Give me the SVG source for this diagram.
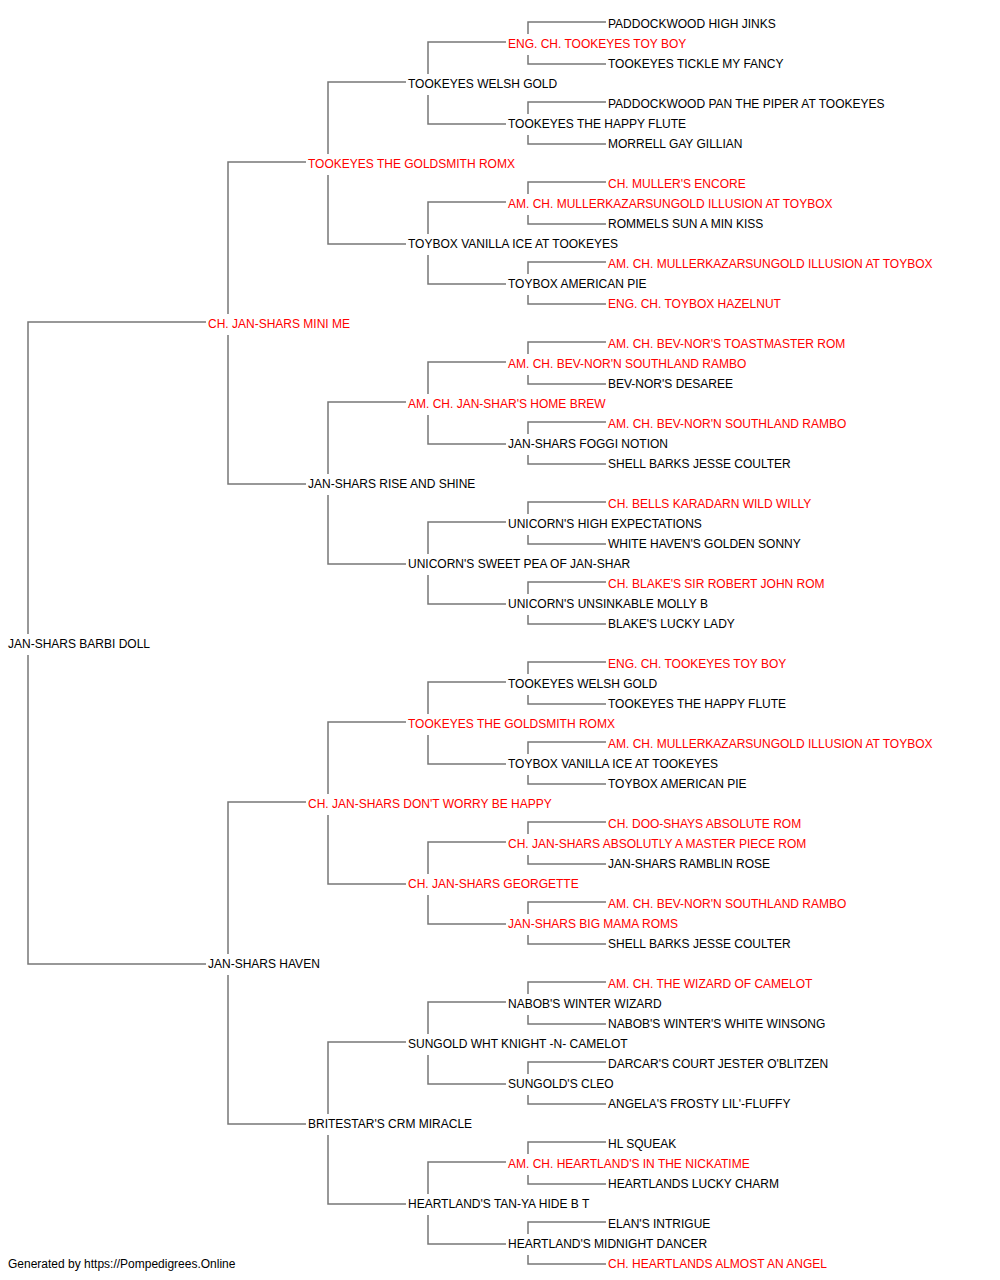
<svg xmlns="http://www.w3.org/2000/svg" width="1000" height="1280" viewBox="0 0 1000 1280">
<style>
text{font-family:"Liberation Sans",Arial,sans-serif;font-size:12px}
.k{fill:#000}
.r{fill:#f00}
.c path{fill:none;stroke:#777;stroke-width:1.5}
</style>
<rect width="1000" height="1280" fill="#fff"/>
<g class="c" id="connectors">
<path d="M206,322 H28 V634 M28,655 V964 H206"/>
<path d="M306,162 H228 V314 M228,335 V484 H306"/>
<path d="M306,802 H228 V954 M228,975 V1124 H306"/>
<path d="M406,82 H328 V154 M328,175 V244 H406"/>
<path d="M406,402 H328 V474 M328,495 V564 H406"/>
<path d="M406,722 H328 V794 M328,815 V884 H406"/>
<path d="M406,1042 H328 V1114 M328,1135 V1204 H406"/>
<path d="M506,42 H428 V74 M428,95 V124 H506"/>
<path d="M506,202 H428 V234 M428,255 V284 H506"/>
<path d="M506,362 H428 V394 M428,415 V444 H506"/>
<path d="M506,522 H428 V554 M428,575 V604 H506"/>
<path d="M506,682 H428 V714 M428,735 V764 H506"/>
<path d="M506,842 H428 V874 M428,895 V924 H506"/>
<path d="M506,1002 H428 V1034 M428,1055 V1084 H506"/>
<path d="M506,1162 H428 V1194 M428,1215 V1244 H506"/>
<path d="M606,22 H528 V34 M528,55 V64 H606"/>
<path d="M606,102 H528 V114 M528,135 V144 H606"/>
<path d="M606,182 H528 V194 M528,215 V224 H606"/>
<path d="M606,262 H528 V274 M528,295 V304 H606"/>
<path d="M606,342 H528 V354 M528,375 V384 H606"/>
<path d="M606,422 H528 V434 M528,455 V464 H606"/>
<path d="M606,502 H528 V514 M528,535 V544 H606"/>
<path d="M606,582 H528 V594 M528,615 V624 H606"/>
<path d="M606,662 H528 V674 M528,695 V704 H606"/>
<path d="M606,742 H528 V754 M528,775 V784 H606"/>
<path d="M606,822 H528 V834 M528,855 V864 H606"/>
<path d="M606,902 H528 V914 M528,935 V944 H606"/>
<path d="M606,982 H528 V994 M528,1015 V1024 H606"/>
<path d="M606,1062 H528 V1074 M528,1095 V1104 H606"/>
<path d="M606,1142 H528 V1154 M528,1175 V1184 H606"/>
<path d="M606,1222 H528 V1234 M528,1255 V1264 H606"/>
</g>
<g id="n0"><text class="k" x="608" y="28">PADDOCKWOOD HIGH JINKS</text></g>
<g id="n1"><text class="r" x="508" y="48">ENG. CH. TOOKEYES TOY BOY</text></g>
<g id="n2"><text class="k" x="608" y="68">TOOKEYES TICKLE MY FANCY</text></g>
<g id="n3"><text class="k" x="408" y="88">TOOKEYES WELSH GOLD</text></g>
<g id="n4"><text class="k" x="608" y="108">PADDOCKWOOD PAN THE PIPER AT TOOKEYES</text></g>
<g id="n5"><text class="k" x="508" y="128">TOOKEYES THE HAPPY FLUTE</text></g>
<g id="n6"><text class="k" x="608" y="148">MORRELL GAY GILLIAN</text></g>
<g id="n7"><text class="r" x="308" y="168">TOOKEYES THE GOLDSMITH ROMX</text></g>
<g id="n8"><text class="r" x="608" y="188">CH. MULLER'S ENCORE</text></g>
<g id="n9"><text class="r" x="508" y="208">AM. CH. MULLERKAZARSUNGOLD ILLUSION AT TOYBOX</text></g>
<g id="n10"><text class="k" x="608" y="228">ROMMELS SUN A MIN KISS</text></g>
<g id="n11"><text class="k" x="408" y="248">TOYBOX VANILLA ICE AT TOOKEYES</text></g>
<g id="n12"><text class="r" x="608" y="268">AM. CH. MULLERKAZARSUNGOLD ILLUSION AT TOYBOX</text></g>
<g id="n13"><text class="k" x="508" y="288">TOYBOX AMERICAN PIE</text></g>
<g id="n14"><text class="r" x="608" y="308">ENG. CH. TOYBOX HAZELNUT</text></g>
<g id="n15"><text class="r" x="208" y="328">CH. JAN-SHARS MINI ME</text></g>
<g id="n16"><text class="r" x="608" y="348">AM. CH. BEV-NOR'S TOASTMASTER ROM</text></g>
<g id="n17"><text class="r" x="508" y="368">AM. CH. BEV-NOR'N SOUTHLAND RAMBO</text></g>
<g id="n18"><text class="k" x="608" y="388">BEV-NOR'S DESAREE</text></g>
<g id="n19"><text class="r" x="408" y="408">AM. CH. JAN-SHAR'S HOME BREW</text></g>
<g id="n20"><text class="r" x="608" y="428">AM. CH. BEV-NOR'N SOUTHLAND RAMBO</text></g>
<g id="n21"><text class="k" x="508" y="448">JAN-SHARS FOGGI NOTION</text></g>
<g id="n22"><text class="k" x="608" y="468">SHELL BARKS JESSE COULTER</text></g>
<g id="n23"><text class="k" x="308" y="488">JAN-SHARS RISE AND SHINE</text></g>
<g id="n24"><text class="r" x="608" y="508">CH. BELLS KARADARN WILD WILLY</text></g>
<g id="n25"><text class="k" x="508" y="528">UNICORN'S HIGH EXPECTATIONS</text></g>
<g id="n26"><text class="k" x="608" y="548">WHITE HAVEN'S GOLDEN SONNY</text></g>
<g id="n27"><text class="k" x="408" y="568">UNICORN'S SWEET PEA OF JAN-SHAR</text></g>
<g id="n28"><text class="r" x="608" y="588">CH. BLAKE'S SIR ROBERT JOHN ROM</text></g>
<g id="n29"><text class="k" x="508" y="608">UNICORN'S UNSINKABLE MOLLY B</text></g>
<g id="n30"><text class="k" x="608" y="628">BLAKE'S LUCKY LADY</text></g>
<g id="n31"><text class="k" x="8" y="648">JAN-SHARS BARBI DOLL</text></g>
<g id="n32"><text class="r" x="608" y="668">ENG. CH. TOOKEYES TOY BOY</text></g>
<g id="n33"><text class="k" x="508" y="688">TOOKEYES WELSH GOLD</text></g>
<g id="n34"><text class="k" x="608" y="708">TOOKEYES THE HAPPY FLUTE</text></g>
<g id="n35"><text class="r" x="408" y="728">TOOKEYES THE GOLDSMITH ROMX</text></g>
<g id="n36"><text class="r" x="608" y="748">AM. CH. MULLERKAZARSUNGOLD ILLUSION AT TOYBOX</text></g>
<g id="n37"><text class="k" x="508" y="768">TOYBOX VANILLA ICE AT TOOKEYES</text></g>
<g id="n38"><text class="k" x="608" y="788">TOYBOX AMERICAN PIE</text></g>
<g id="n39"><text class="r" x="308" y="808">CH. JAN-SHARS DON'T WORRY BE HAPPY</text></g>
<g id="n40"><text class="r" x="608" y="828">CH. DOO-SHAYS ABSOLUTE ROM</text></g>
<g id="n41"><text class="r" x="508" y="848">CH. JAN-SHARS ABSOLUTLY A MASTER PIECE ROM</text></g>
<g id="n42"><text class="k" x="608" y="868">JAN-SHARS RAMBLIN ROSE</text></g>
<g id="n43"><text class="r" x="408" y="888">CH. JAN-SHARS GEORGETTE</text></g>
<g id="n44"><text class="r" x="608" y="908">AM. CH. BEV-NOR'N SOUTHLAND RAMBO</text></g>
<g id="n45"><text class="r" x="508" y="928">JAN-SHARS BIG MAMA ROMS</text></g>
<g id="n46"><text class="k" x="608" y="948">SHELL BARKS JESSE COULTER</text></g>
<g id="n47"><text class="k" x="208" y="968">JAN-SHARS HAVEN</text></g>
<g id="n48"><text class="r" x="608" y="988">AM. CH. THE WIZARD OF CAMELOT</text></g>
<g id="n49"><text class="k" x="508" y="1008">NABOB'S WINTER WIZARD</text></g>
<g id="n50"><text class="k" x="608" y="1028">NABOB'S WINTER'S WHITE WINSONG</text></g>
<g id="n51"><text class="k" x="408" y="1048">SUNGOLD WHT KNIGHT -N- CAMELOT</text></g>
<g id="n52"><text class="k" x="608" y="1068">DARCAR'S COURT JESTER O'BLITZEN</text></g>
<g id="n53"><text class="k" x="508" y="1088">SUNGOLD'S CLEO</text></g>
<g id="n54"><text class="k" x="608" y="1108">ANGELA'S FROSTY LIL'-FLUFFY</text></g>
<g id="n55"><text class="k" x="308" y="1128">BRITESTAR'S CRM MIRACLE</text></g>
<g id="n56"><text class="k" x="608" y="1148">HL SQUEAK</text></g>
<g id="n57"><text class="r" x="508" y="1168">AM. CH. HEARTLAND'S IN THE NICKATIME</text></g>
<g id="n58"><text class="k" x="608" y="1188">HEARTLANDS LUCKY CHARM</text></g>
<g id="n59"><text class="k" x="408" y="1208">HEARTLAND'S TAN-YA HIDE B T</text></g>
<g id="n60"><text class="k" x="608" y="1228">ELAN'S INTRIGUE</text></g>
<g id="n61"><text class="k" x="508" y="1248">HEARTLAND'S MIDNIGHT DANCER</text></g>
<g id="n62"><text class="r" x="608" y="1268">CH. HEARTLANDS ALMOST AN ANGEL</text></g>
<g id="footer"><text class="k" x="8" y="1268">Generated by https://Pompedigrees.Online</text></g>
</svg>
